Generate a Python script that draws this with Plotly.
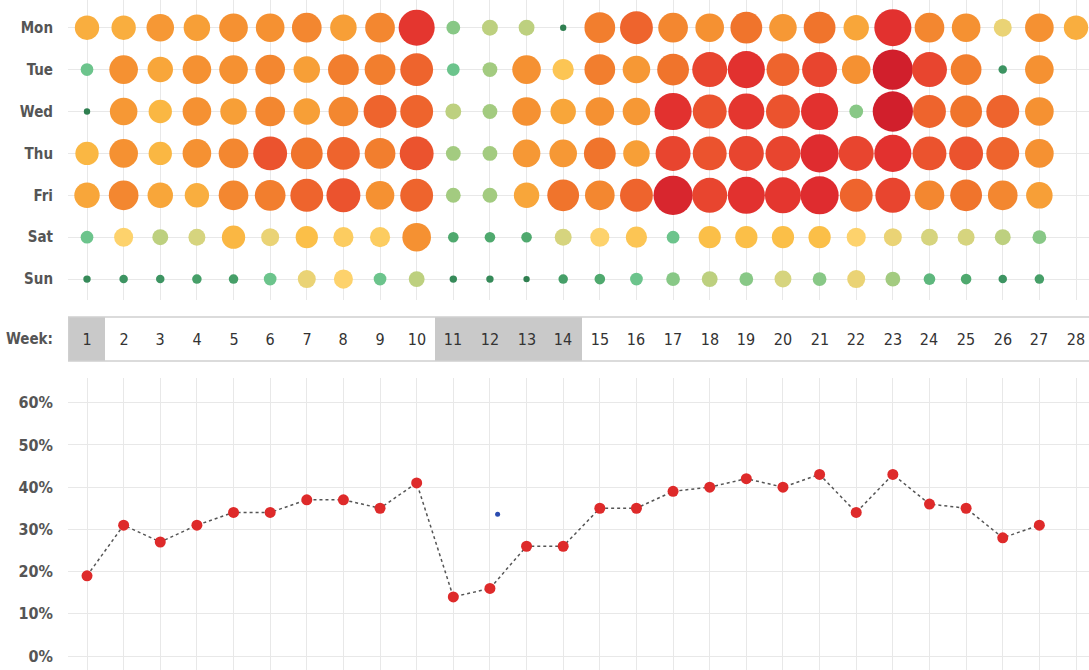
import plotly.graph_objects as go

# ---------------- data ----------------
weeks = list(range(1, 29))
days = ["Mon", "Tue", "Wed", "Thu", "Fri", "Sat", "Sun"]

# activity index per day (rows) and week (columns); None = no data
mon = [23, 23, 26, 25, 27, 27, 28, 25, 28, 34, 13, 15, 15, 6, 29, 31, 28, 27, 30, 26, 30, 24, 35, 28, 27, 17, 27, 23]
tue = [12, 27, 24, 27, 27, 28, 25, 29, 29, 31, 12, 14, 27, 20, 29, 26, 30, 33, 35, 31, 33, 27, 38, 33, 29, 8, 27, None]
wed = [6, 26, 22, 27, 25, 28, 25, 28, 31, 31, 15, 14, 27, 24, 27, 26, 35, 32, 34, 32, 35, 13, 38, 31, 30, 31, 27, None]
thu = [22, 27, 22, 27, 28, 32, 30, 31, 29, 32, 14, 14, 26, 26, 30, 25, 33, 32, 33, 33, 36, 33, 35, 32, 32, 31, 27, None]
fri = [24, 28, 24, 23, 28, 29, 31, 32, 27, 31, 14, 14, 24, 30, 28, 31, 37, 33, 35, 34, 36, 31, 33, 28, 30, 28, 25, None]
sat = [12, 18, 15, 16, 22, 17, 21, 19, 19, 27, 10, 10, 10, 16, 18, 20, 12, 21, 21, 21, 21, 18, 17, 16, 16, 15, 13, None]
sun = [7, 8, 8, 9, 9, 12, 17, 18, 12, 15, 7, 7, 6, 9, 10, 12, 13, 15, 13, 16, 13, 17, 14, 11, 10, 8, 9, None]
activity = [mon, tue, wed, thu, fri, sat, sun]

# highlighted weeks in the week band
highlight_weeks = [1, 11, 12, 13, 14]

# weekly share (line chart), weeks 1..27
share_weeks = list(range(1, 28))
share = [0.19, 0.31, 0.27, 0.31, 0.34, 0.34, 0.37, 0.37, 0.35, 0.41,
         0.14, 0.16, 0.26, 0.26, 0.35, 0.35, 0.39, 0.40, 0.42, 0.40,
         0.43, 0.34, 0.43, 0.36, 0.35, 0.28, 0.31]

# stray marker
stray_week = [12.21]
stray_val = [0.336]

# ---------------- styling ----------------
W, H = 1089, 670
FONT = "DejaVu Sans Condensed, Liberation Sans Narrow, Roboto, sans-serif"
GRID = "#e8e8e8"
LABEL = "#555555"
SIZE_PER_UNIT = 1.06

colorscale_pts = [
    (6, "#2f7f50"), (8, "#3d9462"), (10, "#4fa96e"), (12, "#6cc48c"),
    (14, "#a3cb80"), (16, "#d6d47e"), (18, "#fdd26c"), (21, "#fbbf48"),
    (24, "#f8a63a"), (27, "#f59132"), (30, "#f0742c"), (32, "#eb532e"),
    (34, "#e4362f"), (36, "#df2c2f"), (38, "#d11f2c"),
]
cmin, cmax = 6, 38
colorscale = [[(v - cmin) / (cmax - cmin), c] for v, c in colorscale_pts]

xr = [0.481, 28.355]

fig = go.Figure()

# bubble chart
bx, by, bv = [], [], []
for di, row in enumerate(activity):
    for wi, v in enumerate(row):
        if v is None:
            continue
        bx.append(weeks[wi]); by.append(di); bv.append(v)

fig.add_trace(go.Scatter(
    x=bx, y=by, mode="markers", xaxis="x", yaxis="y",
    marker=dict(size=[v * SIZE_PER_UNIT for v in bv], color=bv,
                colorscale=colorscale, cmin=cmin, cmax=cmax,
                line=dict(width=0), opacity=1),
    hoverinfo="x+y", showlegend=False,
))

# week band
band_z = [[1 if w in highlight_weeks else 0 for w in weeks]]
fig.add_trace(go.Heatmap(
    x=weeks, y=[0], z=band_z, xaxis="x2", yaxis="y2",
    colorscale=[[0, "#ffffff"], [1, "#c9c9c9"]], zmin=0, zmax=1,
    showscale=False, text=[[str(w) for w in weeks]], texttemplate="%{text}",
    textfont=dict(family=FONT, size=16, color="#333333"), hoverinfo="skip",
))

# line chart
fig.add_trace(go.Scatter(
    x=share_weeks, y=share, mode="lines+markers", xaxis="x3", yaxis="y3",
    line=dict(color="#555555", width=1.5, dash="dot"),
    marker=dict(size=11, color="#de2a2a"), showlegend=False,
))
fig.add_trace(go.Scatter(
    x=stray_week, y=stray_val, mode="markers", xaxis="x3", yaxis="y3",
    marker=dict(size=5, color="#2a4bb0"), showlegend=False,
))

tickfont = dict(family=FONT, size=15, color=LABEL, weight="bold")
pctfont = dict(family=FONT, size=16, color=LABEL, weight="bold")

fig.update_layout(
    width=W, height=H, margin=dict(l=68, r=0, t=0, b=0, autoexpand=False),
    paper_bgcolor="white", plot_bgcolor="white", showlegend=False,
    xaxis=dict(domain=[0, 1], range=xr, tickvals=weeks, showticklabels=False,
               showgrid=True, gridcolor=GRID, gridwidth=1, zeroline=False,
               anchor="y", automargin=False),
    yaxis=dict(domain=[1 - 300 / H, 1], range=[6.499, -0.661],
               tickvals=list(range(7)), ticktext=days, tickfont=tickfont,
               showgrid=True, gridcolor=GRID, zeroline=False,
               ticklabelstandoff=14, anchor="x", automargin=False),
    xaxis2=dict(domain=[0, 1], range=xr, showticklabels=False, showgrid=False,
                zeroline=False, anchor="y2", matches="x", automargin=False),
    yaxis2=dict(domain=[1 - 361 / H, 1 - 317 / H], range=[-0.5, 0.5],
                tickvals=[0], ticktext=["Week:"], tickfont=tickfont,
                showgrid=False, zeroline=False, ticklabelstandoff=14,
                anchor="x2", automargin=False),
    xaxis3=dict(domain=[0, 1], range=xr, tickvals=weeks, showticklabels=False,
                showgrid=True, gridcolor=GRID, zeroline=False, anchor="y3",
                matches="x", automargin=False),
    yaxis3=dict(domain=[0, 1 - 378 / H], range=[-0.03316, 0.6585],
                tickvals=[0, 0.1, 0.2, 0.3, 0.4, 0.5, 0.6], tickformat=".0%",
                tickfont=pctfont, showgrid=True, gridcolor=GRID,
                zeroline=False, ticklabelstandoff=14, anchor="x3",
                automargin=False),
    shapes=[dict(type="rect", xref="x2", yref="y2 domain", x0=0.5, x1=28.5,
                 y0=0, y1=1, line=dict(color="#cfcfcf", width=1.5),
                 fillcolor="rgba(0,0,0,0)")],
)

fig.write_html(
    "out.html",
    config={"displayModeBar": False},
    post_script="document.body.style.margin='0';document.body.style.padding='0';",
)
